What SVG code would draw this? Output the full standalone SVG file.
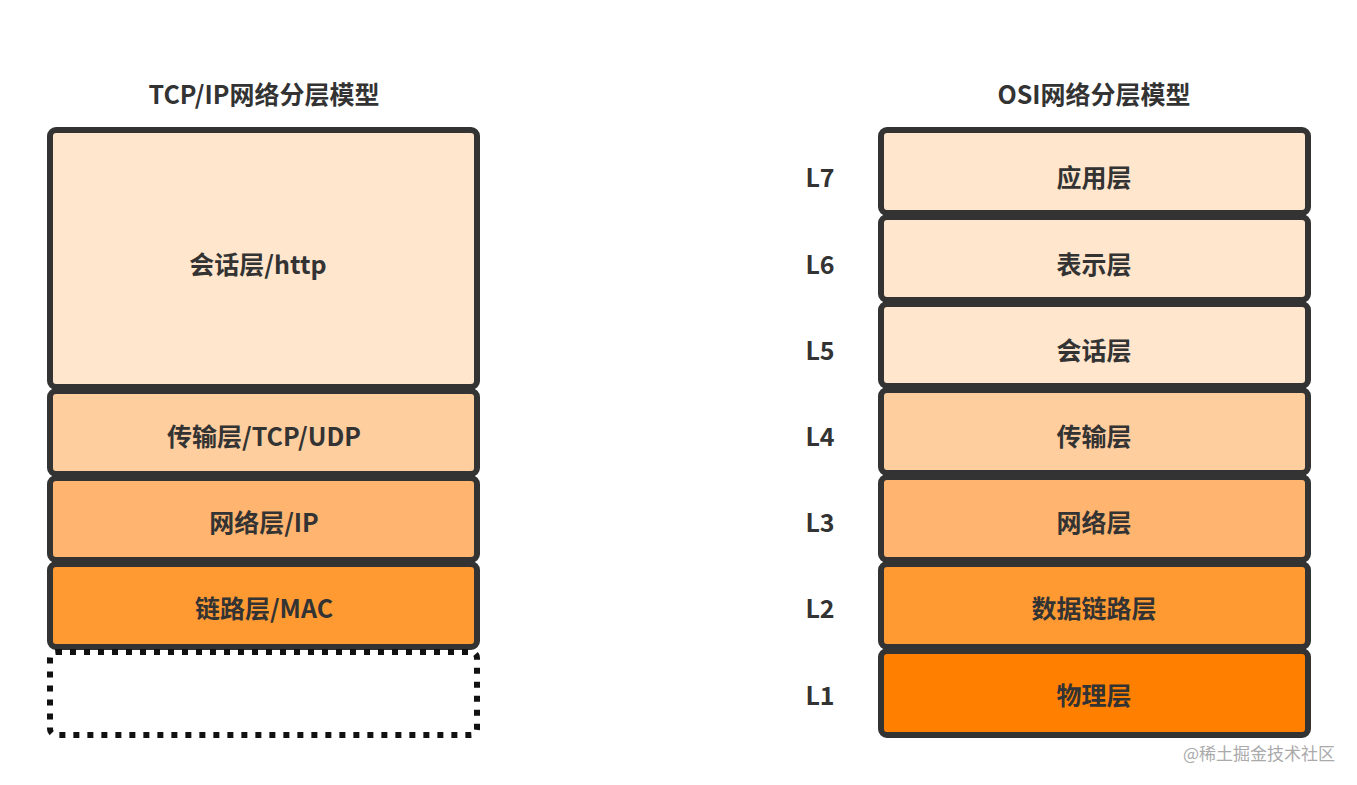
<svg xmlns="http://www.w3.org/2000/svg" width="1357" height="785" viewBox="0 0 1357 785">
<style>
.b{stroke:#333;stroke-width:6}
.t{font-family:"Noto Sans CJK SC","Liberation Sans",sans-serif;font-weight:bold;font-size:25px;fill:#333;text-anchor:middle;dominant-baseline:central}
.c1{fill:#FFE6CC}.c2{fill:#FFCE9F}.c3{fill:#FFB570}.c4{fill:#FF9A33}.c5{fill:#FF8000}
</style>
<rect width="1357" height="785" fill="#fff"/>
<text class="t" x="264" y="93">TCP/IP网络分层模型</text>
<text class="t" x="1094" y="93">OSI网络分层模型</text>
<g id="tcp-session"><rect class="b c1" x="50" y="130" width="427" height="257" rx="6"/><text class="t" x="258" y="263">会话层/http</text></g>
<g id="tcp-transport"><rect class="b c2" x="50" y="391" width="427" height="83" rx="6"/><text class="t" x="264" y="435">传输层/TCP/UDP</text></g>
<g id="tcp-network"><rect class="b c3" x="50" y="478" width="427" height="82" rx="6"/><text class="t" x="264" y="521">网络层/IP</text></g>
<g id="tcp-link"><rect class="b c4" x="50" y="564" width="427" height="83" rx="6"/><text class="t" x="264" y="607">链路层/MAC</text></g>
<g id="tcp-empty"><rect x="50" y="652" width="427" height="83" rx="6" fill="none" stroke="#111" stroke-width="6" stroke-dasharray="6 8"/></g>
<g id="osi-l7"><rect class="b c1" x="881" y="130" width="427" height="83" rx="6"/><text class="t" x="1094" y="176">应用层</text><text class="t" x="820" y="176">L7</text></g>
<g id="osi-l6"><rect class="b c1" x="881" y="217" width="427" height="83" rx="6"/><text class="t" x="1094" y="263">表示层</text><text class="t" x="820" y="263">L6</text></g>
<g id="osi-l5"><rect class="b c1" x="881" y="304" width="427" height="82" rx="6"/><text class="t" x="1094" y="349">会话层</text><text class="t" x="820" y="349">L5</text></g>
<g id="osi-l4"><rect class="b c2" x="881" y="390" width="427" height="83" rx="6"/><text class="t" x="1094" y="435">传输层</text><text class="t" x="820" y="435">L4</text></g>
<g id="osi-l3"><rect class="b c3" x="881" y="477" width="427" height="83" rx="6"/><text class="t" x="1094" y="521">网络层</text><text class="t" x="820" y="521">L3</text></g>
<g id="osi-l2"><rect class="b c4" x="881" y="564" width="427" height="83" rx="6"/><text class="t" x="1094" y="607">数据链路层</text><text class="t" x="820" y="607">L2</text></g>
<g id="osi-l1"><rect class="b c5" x="881" y="651" width="427" height="84" rx="6"/><text class="t" x="1094" y="694">物理层</text><text class="t" x="820" y="694">L1</text></g>
<g id="connectors"/>
<text x="1335" y="752" font-family="Noto Sans CJK SC,sans-serif" font-size="17" fill="#aaa" text-anchor="end" dominant-baseline="central">@稀土掘金技术社区</text>
</svg>
